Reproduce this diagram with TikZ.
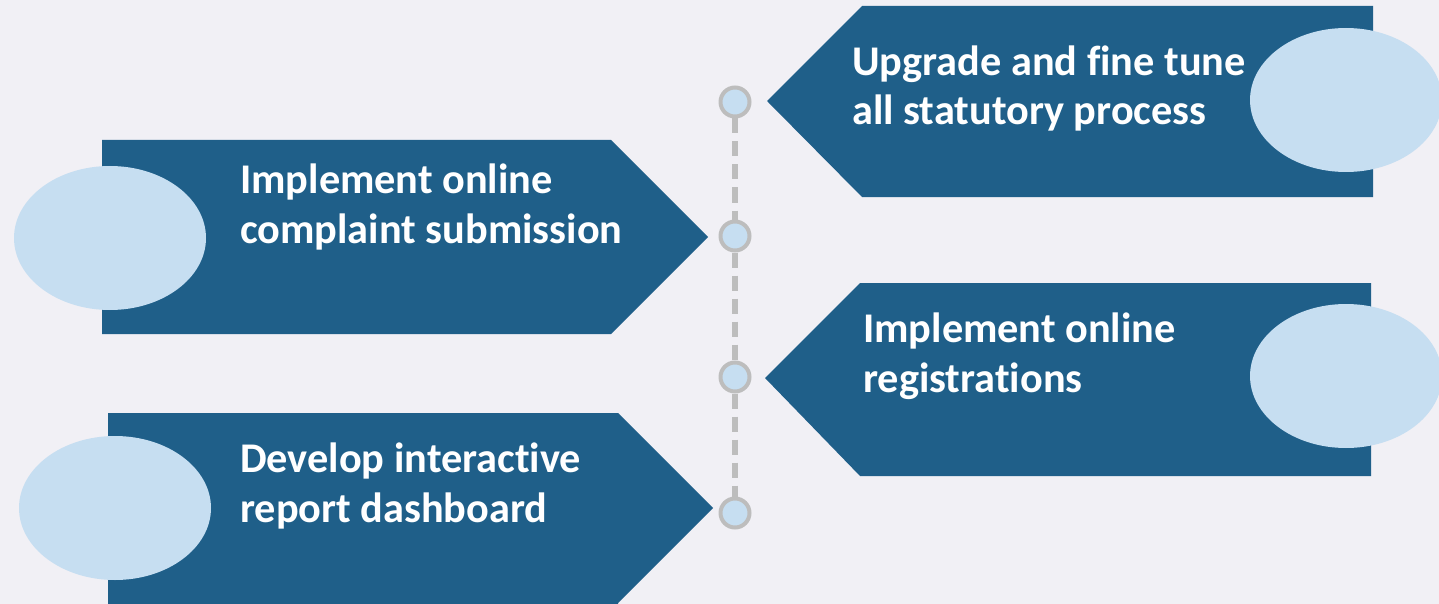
\documentclass[tikz,border=0pt]{standalone}
\usepackage{fontspec}
\setmainfont{Carlito}[Ligatures=NoCommon]
\usetikzlibrary{shapes.geometric}
\definecolor{bg}{HTML}{F1F0F5}
\definecolor{navy}{HTML}{1F5F89}
\definecolor{pale}{HTML}{C6DEF1}
\definecolor{ring}{HTML}{BDBDBD}
\tikzset{
  arrowbox/.style={fill=navy, draw=none},
  blob/.style={ellipse, fill=pale, draw=none, inner sep=0pt, minimum width=192pt, minimum height=144pt},
  lbl/.style={text=white, font=\bfseries\fontsize{42.3}{49.7}\selectfont, align=left, inner sep=0pt, anchor=base west},
  dot/.style={circle, fill=pale, draw=ring, line width=4pt, minimum size=29pt, inner sep=0pt},
  timeline/.style={draw=ring, line width=5.5pt, dash pattern=on 15pt off 8pt}
}
\begin{document}
\begin{tikzpicture}[x=1pt,y=-1pt]
\useasboundingbox (0,0) rectangle (1439,604);
\clip (0,0) rectangle (1439,604);
\fill[bg] (0,0) rectangle (1439,604);
% arrow shapes
\fill[arrowbox] (767,101) -- (862,6) -- (1373,6) -- (1373,197) -- (862,197) -- cycle;
\fill[arrowbox] (102,140) -- (611,140) -- (708,237) -- (611,334) -- (102,334) -- cycle;
\fill[arrowbox] (765,378) -- (860,283) -- (1371,283) -- (1371,476) -- (860,476) -- cycle;
\fill[arrowbox] (108,413) -- (618,413) -- (713,508) -- (618,603) -- (618,610) -- (108,610) -- cycle;
% ellipses
\node[blob] (e1) at (1346,100) {};
\node[blob] (e2) at (110,238) {};
\node[blob] (e3) at (1346,376) {};
\node[blob] (e4) at (115,508) {};
% timeline
\node[dot] (c1) at (735,102) {};
\node[dot] (c2) at (735,236) {};
\node[dot] (c3) at (735,377) {};
\node[dot] (c4) at (735,513) {};
\draw[timeline] (c1.south) -- (c2.north);
\draw[timeline] (c2.south) -- (c3.north);
\draw[timeline] (c3.south) -- (c4.north);
% labels (anchored at the baseline of the last line)
\node[lbl] (t1) at (852,125) {Upgrade and fine tune\\all statutory process};
\node[lbl] (t2) at (240,243) {Implement online\\complaint submission};
\node[lbl] (t3) at (863,392) {Implement online\\registrations};
\node[lbl] (t4) at (240,522) {Develop interactive\\report dashboard};
\end{tikzpicture}
\end{document}
